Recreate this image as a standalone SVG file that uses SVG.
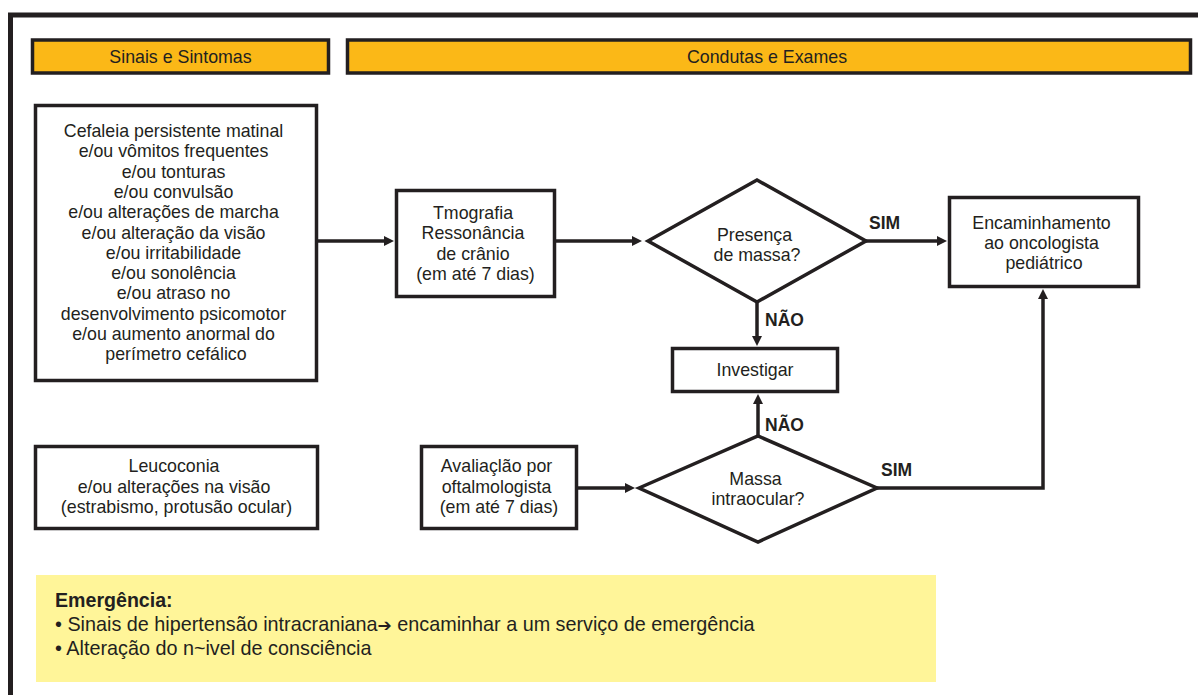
<svg xmlns="http://www.w3.org/2000/svg" width="1198" height="695" viewBox="0 0 1198 695">
<defs>
<style>
.t{font-family:"Liberation Sans",Arial,sans-serif;font-size:17.8px;fill:#231f20;text-anchor:middle}
.b{font-family:"Liberation Sans",Arial,sans-serif;font-size:17.5px;font-weight:bold;fill:#231f20}
.eb{font-family:"Liberation Sans",Arial,sans-serif;font-size:19.6px;font-weight:bold;fill:#231f20}
.l{font-family:"Liberation Sans",Arial,sans-serif;font-size:19.8px;fill:#231f20}
.box{fill:#ffffff;stroke:#231f20;stroke-width:3.5}
.hdr{fill:#fbb817;stroke:#231f20;stroke-width:3.5}
.c{fill:none;stroke:#231f20;stroke-width:3.5;marker-end:url(#ah)}
</style>
<marker id="ah" markerUnits="userSpaceOnUse" markerWidth="11" markerHeight="11" refX="4" refY="5" orient="auto" viewBox="0 0 11 11">
<path d="M0,0 L10,5 L0,10 Z" fill="#231f20"/>
</marker>
</defs>
<rect width="1198" height="695" fill="#ffffff"/>
<path d="M10.5,700 V15 H1205" fill="none" stroke="#231f20" stroke-width="5"/>

<g id="hdr-sinais">
<rect class="hdr" x="32.5" y="40" width="296" height="33"/>
<text class="t" x="180.5" y="63">Sinais e Sintomas</text>
</g>
<g id="hdr-condutas">
<rect class="hdr" x="347.5" y="40" width="843" height="33"/>
<text class="t" x="767" y="63">Condutas e Exames</text>
</g>

<g id="sintomas">
<rect class="box" x="35.5" y="105.5" width="281" height="275"/>
<text class="t">
<tspan x="176" y="137">Cefaleia persistente matinal</tspan>
<tspan x="176" y="157.3">e/ou vômitos frequentes</tspan>
<tspan x="176" y="177.6">e/ou tonturas</tspan>
<tspan x="176" y="197.9">e/ou convulsão</tspan>
<tspan x="176" y="218.2">e/ou alterações de marcha</tspan>
<tspan x="176" y="238.5">e/ou alteração da visão</tspan>
<tspan x="176" y="258.8">e/ou irritabilidade</tspan>
<tspan x="176" y="279.1">e/ou sonolência</tspan>
<tspan x="176" y="299.4">e/ou atraso no</tspan>
<tspan x="176" y="319.7">desenvolvimento psicomotor</tspan>
<tspan x="176" y="340">e/ou aumento anormal do</tspan>
<tspan x="176" y="360.3">perímetro cefálico</tspan>
</text>
</g>

<g id="tomografia">
<rect class="box" x="396.5" y="190.5" width="158" height="106"/>
<text class="t">
<tspan x="475.5" y="218.5">Tmografia</tspan>
<tspan x="475.5" y="239">Ressonância</tspan>
<tspan x="475.5" y="259.5">de crânio</tspan>
<tspan x="475.5" y="280">(em até 7 dias)</tspan>
</text>
</g>

<g id="presenca">
<polygon class="box" points="648,241 757,180 866,241 757,302"/>
<text class="t">
<tspan x="757" y="241">Presença</tspan>
<tspan x="757" y="261">de massa?</tspan>
</text>
</g>

<g id="encaminhamento">
<rect class="box" x="949.5" y="197.5" width="189" height="89"/>
<text class="t">
<tspan x="1044" y="228.5">Encaminhamento</tspan>
<tspan x="1044" y="248.5">ao oncologista</tspan>
<tspan x="1044" y="268.5">pediátrico</tspan>
</text>
</g>

<g id="investigar">
<rect class="box" x="672.5" y="348.5" width="165" height="43"/>
<text class="t" x="755" y="375.5">Investigar</text>
</g>

<g id="leucoconia">
<rect class="box" x="35.5" y="446.5" width="282" height="82"/>
<text class="t">
<tspan x="176.5" y="472">Leucoconia</tspan>
<tspan x="176.5" y="492.5">e/ou alterações na visão</tspan>
<tspan x="176.5" y="513">(estrabismo, protusão ocular)</tspan>
</text>
</g>

<g id="avaliacao">
<rect class="box" x="421.5" y="446.5" width="155" height="82"/>
<text class="t">
<tspan x="499" y="472">Avaliaçlão por</tspan>
<tspan x="499" y="492.5">oftalmologista</tspan>
<tspan x="499" y="513">(em até 7 dias)</tspan>
</text>
</g>

<g id="intraocular">
<polygon class="box" points="639,488 758,436 877,488 758,542"/>
<text class="t">
<tspan x="758" y="485">Massa</tspan>
<tspan x="758" y="505">intraocular?</tspan>
</text>
</g>

<g id="connectors">
<path class="c" d="M318,241 H388"/>
<path class="c" d="M556,241 H636"/>
<path class="c" d="M866,241 H941"/>
<path class="c" d="M757,302 V340"/>
<path class="c" d="M758,436 V400"/>
<path class="c" d="M578,488 H629"/>
<path class="c" d="M877,488 H1043 V295"/>
<text class="b" x="869" y="229">SIM</text>
<text class="b" x="765" y="326">NÃO</text>
<text class="b" x="765" y="431">NÃO</text>
<text class="b" x="881" y="476">SIM</text>
</g>

<g id="emergencia">
<rect x="36" y="575" width="900" height="107" fill="#fff599"/>
<text class="eb" x="55" y="607">Emergência:</text>
<text class="l" x="55" y="631">• Sinais de hipertensão intracraniana<tspan font-family="DejaVu Sans" font-size="17px">➔</tspan> encaminhar a um serviço de emergência</text>
<text class="l" x="55" y="655">• Alteração do n~ivel de consciência</text>
</g>
</svg>
